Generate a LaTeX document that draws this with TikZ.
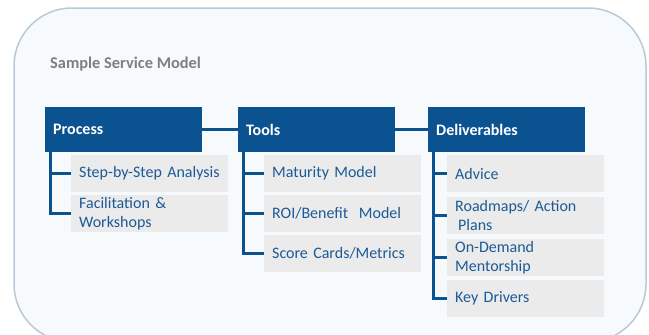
\documentclass[tikz,border=0pt]{standalone}
\usepackage{fontspec}
\setmainfont{Carlito}
\usepackage{tikz}
\usetikzlibrary{positioning}
\definecolor{hdrblue}{HTML}{0B5390}
\definecolor{itemblue}{HTML}{1C5A96}
\definecolor{itemgray}{HTML}{EBEBEB}
\definecolor{panelfill}{HTML}{F6FAFD}
\definecolor{panelline}{HTML}{B9CAD6}
\definecolor{titlegray}{HTML}{7F7F7F}
\tikzset{
  hdr/.style={fill=hdrblue, text=white, font=\bfseries\fontsize{16}{19}\selectfont,
    anchor=north west, minimum height=45pt, text width=141pt,
    inner xsep=8pt, inner ysep=0pt, align=left},
  item/.style={fill=itemgray, text=itemblue, font=\fontsize{16}{19.5}\selectfont,
    anchor=north west, minimum height=37pt, text width=141pt,
    inner xsep=8pt, inner ysep=0pt, align=left},
  link/.style={draw=hdrblue, line width=3pt}
}

\begin{document}
\begin{tikzpicture}[x=1pt,y=-1pt]
\useasboundingbox (0,0) rectangle (649,335);
\begin{scope}
\clip (0,0) rectangle (649,335);
\draw[panelline, fill=panelfill, line width=1.5pt, rounded corners=58pt] (14,8) rectangle (646,342);
\end{scope}
\node[anchor=west, text=titlegray, font=\bfseries\fontsize{16.4}{19}\selectfont, inner sep=0pt] (title) at (50,64) {Sample Service Model};
% column heads
\node[hdr] (proc) at (45,107) {Process};
\node[hdr] (tools) at (238,107) {Tools};
\node[hdr] (deliv) at (428,107) {Deliverables};
\draw[link] (proc) -- (tools);
\draw[link] (tools) -- (deliv);
% process items
\node[item] (p1) at (71,155) {Step-by-Step Analysis};
\node[item] (p2) at (71,195) {Facilitation \&\\Workshops};
% tools items
\node[item] (t1) at (264,155) {Maturity Model};
\node[item] (t2) at (264,195) {ROI/Benefit~ Model};
\node[item] (t3) at (264,235) {Score Cards/Metrics};
% deliverables items
\node[item] (d1) at (447,155) {Advice};
\node[item] (d2) at (447,197) {Roadmaps/ Action\\\hspace*{3pt}Plans};
\node[item] (d3) at (447,239) {On-Demand\\Mentorship};
\node[item] (d4) at (447,280) {Key Drivers};
% tree lines
\foreach \n in {p1,p2}
  \draw[link] ([xshift=5pt]proc.south west) |- (\n.west);
\foreach \n in {t1,t2,t3}
  \draw[link] ([xshift=5pt]tools.south west) |- (\n.west);
\foreach \n in {d1,d2,d3,d4}
  \draw[link] ([xshift=5pt]deliv.south west) |- (\n.west);
\end{tikzpicture}
\end{document}
